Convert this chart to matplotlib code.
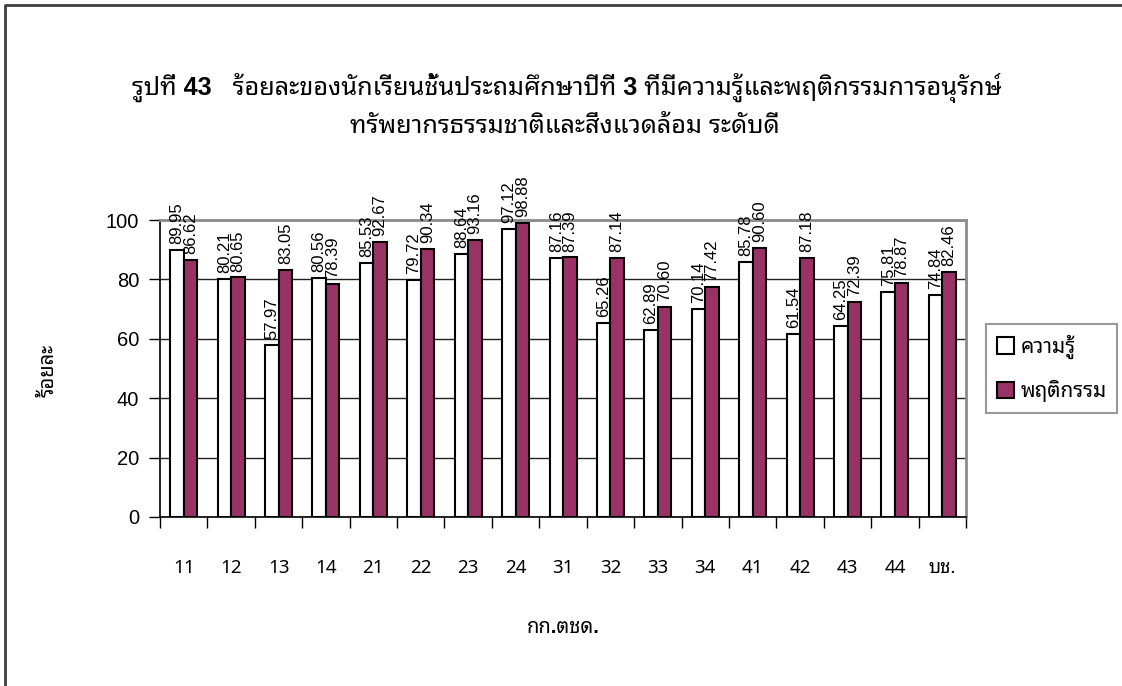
import numpy as np
import matplotlib
matplotlib.use("Agg")
import matplotlib.pyplot as plt
from matplotlib.patches import Patch
from matplotlib.lines import Line2D

THAI = ['Liberation Sans', 'Noto Sans Thai Looped']
NARROW = ['Liberation Sans Narrow', 'Noto Sans Thai Looped']
plt.rcParams['font.family'] = THAI

categories = ['11', '12', '13', '14', '21', '22', '23', '24', '31', '32',
              '33', '34', '41', '42', '43', '44', 'บช.']
knowledge = [89.95, 80.21, 57.97, 80.56, 85.53, 79.72, 88.64, 97.12, 87.16,
             65.26, 62.89, 70.14, 85.78, 61.54, 64.25, 75.81, 74.84]
behavior = [86.62, 80.65, 83.05, 78.39, 92.67, 90.34, 93.16, 98.88, 87.39,
            87.14, 70.60, 77.42, 90.60, 87.18, 72.39, 78.87, 82.46]
series_names = ['ความรู้', 'พฤติกรรม']

title1 = 'รูปที่ 43   ร้อยละของนักเรียนชั้นประถมศึกษาปีที่ 3 ที่มีความรู้และพฤติกรรมการอนุรักษ์'
title2 = 'ทรัพยากรธรรมชาติและสิ่งแวดล้อม ระดับดี'

purple = '#993366'

fig = plt.figure(figsize=(11.22, 6.86), dpi=100)
ax = fig.add_axes([0.1426, 0.2464, 0.861 - 0.1426, 0.6793 - 0.2464])

x = np.arange(len(categories))
w = 0.285
b1 = ax.bar(x - w / 2, knowledge, w, color='white', edgecolor='black', linewidth=1.5, zorder=3)
b2 = ax.bar(x + w / 2, behavior, w, color=purple, edgecolor='black', linewidth=1.5, zorder=3)

for bars, vals in ((b1, knowledge), (b2, behavior)):
    for r, v in zip(bars, vals):
        ax.text(r.get_x() + r.get_width() / 2, v + 2.0, f'{v:.2f}', rotation=90,
                ha='center', va='bottom', fontsize=12, family='Liberation Sans',
                clip_on=False, zorder=4)

ax.set_xlim(-0.5, len(categories) - 0.5)
ax.set_ylim(0, 100)
ax.set_yticks(range(0, 101, 20))
ax.tick_params(axis='y', labelsize=14.5, length=8, pad=7, width=1)
ax.yaxis.grid(True, color='#202020', linewidth=1)
ax.set_axisbelow(True)

# category labels sit far below the axis; tick marks go on the boundaries
ax.set_xticks(x)
ax.set_xticklabels(categories, fontsize=13.5, family=NARROW)
ax.tick_params(axis='x', which='major', length=0, pad=30)
ax.set_xticks(np.arange(len(categories) + 1) - 0.5, minor=True)
ax.tick_params(axis='x', which='minor', length=8, width=1)

for s in ('left', 'bottom'):
    ax.spines[s].set_color('black')
    ax.spines[s].set_linewidth(1.2)
for s in ('top', 'right'):
    ax.spines[s].set_color('#8c8c8c')
    ax.spines[s].set_linewidth(2)

fig.text(0.505, 0.872, title1, ha='center', va='center', fontsize=18.2, fontweight='bold')
fig.text(0.503, 0.817, title2, ha='center', va='center', fontsize=18.2, fontweight='bold')
fig.text(0.502, 0.085, 'กก.ตชด.', ha='center', va='center', fontsize=14.5, fontweight='bold')
fig.text(0.043, 0.46, 'ร้อยละ', ha='center', va='center', fontsize=14.5, fontweight='bold',
         rotation=90)

handles = [Patch(facecolor='white', edgecolor='black', linewidth=1.5),
           Patch(facecolor=purple, edgecolor='black', linewidth=1.5)]
leg = fig.legend(handles, series_names, loc='upper left', bbox_to_anchor=(0.879, 0.527),
                 fontsize=15, frameon=True, fancybox=False, borderpad=0.5,
                 labelspacing=1.0, handlelength=0.85, handleheight=0.85, handletextpad=0.3,
                 borderaxespad=0)
leg.get_frame().set_edgecolor('#808080')
leg.get_frame().set_linewidth(1.5)

# outer frame: only the left and top edges are inside the picture
fx, fy = 5 / 1122, 1 - 5 / 686
fig.add_artist(Line2D([fx, fx, 1.0], [0.0, fy, fy], transform=fig.transFigure,
                      color='#404040', linewidth=2))

fig.savefig('out.png', dpi=100)
